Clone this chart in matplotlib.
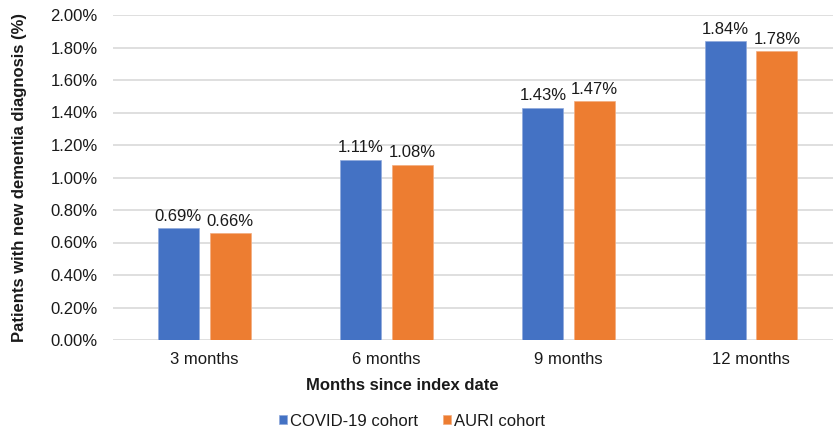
import numpy as np
import matplotlib
matplotlib.use("Agg")
import matplotlib.pyplot as plt
from matplotlib.ticker import FuncFormatter, MultipleLocator

plt.rcParams.update({
    'font.family': 'Liberation Sans',
    'font.size': 12,
    'text.color': '#1a1a1a',
    'axes.labelcolor': '#1a1a1a',
    'xtick.color': '#1a1a1a',
    'ytick.color': '#1a1a1a',
})

# Data
months = ['3 months', '6 months', '9 months', '12 months']
covid = [0.69, 1.11, 1.43, 1.84]   # % with new dementia diagnosis
auri = [0.66, 1.08, 1.47, 1.78]

blue = '#4472C4'
orange = '#ED7D31'

fig = plt.figure(figsize=(8.33, 4.33), dpi=100)
ax = fig.add_axes([113 / 833, 93 / 433, 720 / 833, 325 / 433])

x = np.arange(len(months))
w = 0.225
off = 0.142
b1 = ax.bar(x - off, covid, w, color=blue, edgecolor='#8fa9dc', linewidth=0.5,
            label='COVID-19 cohort', zorder=3)
b2 = ax.bar(x + off, auri, w, color=orange, edgecolor='#f3ad80', linewidth=0.5,
            label='AURI cohort', zorder=3)

for bars, vals in ((b1, covid), (b2, auri)):
    for rect, v in zip(bars, vals):
        ax.annotate(f'{v:.2f}%', (rect.get_x() + rect.get_width() / 2, v),
                    xytext=(0, 3), textcoords='offset points',
                    ha='center', va='bottom', fontsize=12)

ax.set_xlim(-0.5, 3.45)
ax.set_ylim(0, 2.0)
ax.yaxis.set_major_locator(MultipleLocator(0.2))
ax.yaxis.set_major_formatter(FuncFormatter(lambda v, p: f'{v:.2f}%'))
ax.set_xticks(x)
ax.set_xticklabels(months)
ax.tick_params(axis='both', length=0, labelsize=12)
ax.tick_params(axis='y', pad=11)
ax.tick_params(axis='x', pad=9)

ax.grid(axis='y', color='#d9d9d9', linewidth=1.2, zorder=0)
for s in ax.spines.values():
    s.set_visible(False)

ax.set_ylabel('Patients with new dementia diagnosis (%)', fontweight='bold',
              fontsize=12)
ax.yaxis.set_label_coords(-86 / 720, 0.5)
fig.text(402 / 833, 1 - 386 / 433, 'Months since index date', ha='center',
         va='center', fontweight='bold', fontsize=12)

fig.legend(handles=[b1, b2], loc='center', bbox_to_anchor=(412 / 833, 1 - 421 / 433),
           ncol=2, frameon=False, fontsize=12, handlelength=0.48, handleheight=0.48,
           handletextpad=0.18, columnspacing=1.55)

fig.savefig('out.png', dpi=100)
